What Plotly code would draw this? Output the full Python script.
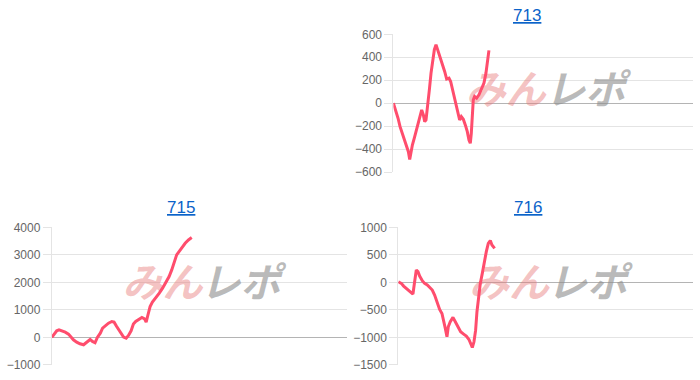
import plotly.graph_objects as go

# ---- data ----
titles = ["713", "715", "716"]

x_713 = [0, 70, 140, 200, 270, 340, 400, 450, 490, 520, 570, 640, 720, 790, 850, 900, 940, 980,
         1030, 1080, 1130, 1180, 1230, 1280, 1330, 1390, 1460, 1540, 1600, 1670, 1720, 1780, 1840,
         1890, 1940, 1990, 2040, 2100, 2160, 2220, 2270, 2310, 2340, 2370, 2400, 2440, 2500, 2570,
         2640, 2720, 2780, 2820, 2870]
y_713 = [0, -58, -131, -204, -262, -320, -378, -422, -490, -437, -364, -291, -204, -131, -58, -102,
         -160, -146, -29, 116, 262, 378, 466, 510, 466, 422, 349, 277, 210, 218, 189, 116, 58, -15,
         -87, -146, -116, -140, -189, -247, -320, -349, -262, -87, 29, 58, 44, 73, 116, 175, 262,
         349, 460]

x_715 = [0, 80, 150, 220, 310, 410, 510, 590, 660, 760, 860, 970, 1040, 1100, 1170, 1240, 1320,
         1390, 1480, 1550, 1630, 1730, 1830, 1900, 1980, 2090, 2190, 2270, 2340, 2420, 2490, 2560,
         2660, 2750, 2830, 2880, 2930, 3000, 3070, 3170, 3280, 3380, 3480, 3580, 3660, 3740, 3810,
         3900, 3970, 4070, 4170, 4270]
y_715 = [0, 121, 242, 278, 242, 193, 121, 12, -85, -169, -230, -266, -193, -145, -73, -145, -193,
         0, 157, 339, 435, 520, 580, 556, 399, 193, 12, -24, 73, 242, 484, 580, 665, 725, 677, 556,
         798, 1124, 1282, 1427, 1608, 1789, 2007, 2212, 2454, 2732, 2998, 3143, 3264, 3421, 3542,
         3627]

x_716 = [0, 92, 163, 244, 325, 397, 447, 498, 549, 600, 651, 732, 803, 885, 956, 1037, 1108, 1180,
         1261, 1332, 1383, 1434, 1485, 1525, 1586, 1668, 1739, 1820, 1902, 1993, 2075, 2156, 2207,
         2258, 2309, 2359, 2400, 2451, 2502, 2563, 2624, 2685, 2746, 2807, 2858, 2939]
y_716 = [10, -18, -67, -109, -139, -188, -212, 12, 224, 194, 115, 30, -18, -48, -91, -139, -230,
         -351, -491, -564, -685, -836, -988, -806, -715, -636, -715, -818, -897, -939, -976, -1036,
         -1097, -1182, -1079, -867, -533, -230, -18, 164, 376, 558, 709, 758, 679, 618]

y_ranges = [[-600, 600], [-1000, 4000], [-1500, 1000]]
y_dticks = [200, 1000, 500]
x_range = [0, 9000]

# ---- styling ----
LINE_COLOR = "#ff4d6d"
GRID = "#e4e4e4"
ZERO = "#b4b4b4"
TICK_FONT = dict(family="Liberation Sans, Arial, sans-serif", size=12, color="#666666")
TITLE_COLOR = "#0b63c9"

x_domains = [[0.562, 0.99], [0.074, 0.4953], [0.569, 0.9904]]
y_domains = [[0.547, 0.9097], [0.0395, 0.4018], [0.0395, 0.4018]]
title_pos = [(0.753, 0.958), (0.259, 0.453), (0.754, 0.453)]

series = [(x_713, y_713), (x_715, y_715), (x_716, y_716)]

fig = go.Figure()
layout = dict(
    width=700, height=380,
    margin=dict(l=0, r=0, t=0, b=0, autoexpand=False),
    paper_bgcolor="white", plot_bgcolor="white",
    showlegend=False,
    annotations=[],
)

for i, (xs, ys) in enumerate(series):
    n = "" if i == 0 else str(i + 1)
    xa, ya = "x" + n, "y" + n
    y0, y1 = y_ranges[i]
    xmid = (x_range[0] + x_range[1]) / 2
    xspan = x_range[1] - x_range[0]
    ywm = y0 + 0.57 * (y1 - y0)
    # watermark (drawn beneath the line)
    fig.add_trace(go.Scatter(
        x=[xmid - 0.125 * xspan], y=[ywm], mode="text", text=["みん"],
        textfont=dict(family="Noto Sans CJK JP", size=40, color="rgba(232,120,120,0.45)",
                      weight="bold", style="italic"),
        xaxis=xa, yaxis=ya, hoverinfo="skip"))
    fig.add_trace(go.Scatter(
        x=[xmid + 0.14 * xspan], y=[ywm], mode="text", text=["レポ"],
        textfont=dict(family="Noto Sans CJK JP", size=40, color="rgba(140,140,140,0.6)",
                      weight="bold", style="italic"),
        xaxis=xa, yaxis=ya, hoverinfo="skip"))
    fig.add_trace(go.Scatter(
        x=xs, y=ys, mode="lines", line=dict(color=LINE_COLOR, width=3),
        xaxis=xa, yaxis=ya, hoverinfo="skip"))

    layout["xaxis" + n] = dict(
        domain=x_domains[i], range=x_range, anchor=ya, automargin=False,
        showgrid=False, zeroline=False, showticklabels=False, showline=False, ticks="")
    layout["yaxis" + n] = dict(
        domain=y_domains[i], range=y_ranges[i], anchor=xa, automargin=False,
        dtick=y_dticks[i], tick0=0,
        showgrid=True, gridcolor=GRID, gridwidth=1,
        zeroline=True, zerolinecolor=ZERO, zerolinewidth=1,
        showline=True, linecolor=GRID, linewidth=1,
        ticks="outside", ticklen=8, tickcolor=GRID,
        tickfont=TICK_FONT)
    tx, ty = title_pos[i]
    layout["annotations"].append(dict(
        text="<u>" + titles[i] + "</u>", x=tx, y=ty, xref="paper", yref="paper",
        showarrow=False, xanchor="center", yanchor="middle",
        font=dict(family="Liberation Sans, Arial, sans-serif", size=17, color=TITLE_COLOR)))

fig.update_layout(**layout)
fig.write_html("out.html", config={"displayModeBar": False})
